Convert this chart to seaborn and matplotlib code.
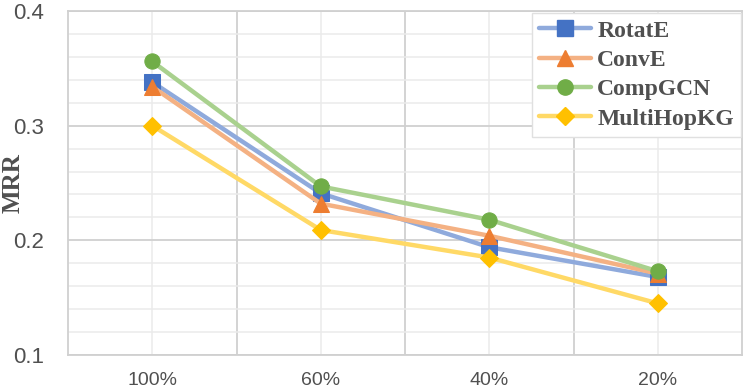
import numpy as np
import pandas as pd
import seaborn as sns
import matplotlib.pyplot as plt
from matplotlib.lines import Line2D
from matplotlib.ticker import MultipleLocator, FixedLocator

# data
ratios = ["100%", "60%", "40%", "20%"]
rotate = [0.338, 0.241, 0.194, 0.168]
conve = [0.334, 0.232, 0.204, 0.171]
compgcn = [0.356, 0.247, 0.218, 0.173]
multihop = [0.300, 0.209, 0.185, 0.145]
yticks = [0.1, 0.2, 0.3, 0.4]

models = ["RotatE", "ConvE", "CompGCN", "MultiHopKG"]
line_colors = ["#8FAADC", "#F4B183", "#A9D18E", "#FFD966"]
marker_colors = ["#4472C4", "#ED7D31", "#70AD47", "#FFC000"]
markers = ["s", "^", "o", "D"]
msizes = [11, 11, 11, 9]

rows = []
for name, vals in zip(models, [rotate, conve, compgcn, multihop]):
    for i, (r, v) in enumerate(zip(ratios, vals)):
        rows.append({"pos": i, "ratio": r, "MRR": v, "model": name})
df = pd.DataFrame(rows)

sns.set_style("white")
plt.rcParams["font.family"] = ["Liberation Sans", "DejaVu Sans"]

fig, ax = plt.subplots(figsize=(7.47, 3.91), dpi=100)
fig.subplots_adjust(left=68/747, right=742/747, top=1-11/391, bottom=1-355/391)

sns.lineplot(data=df, x="pos", y="MRR", hue="model", style="model",
             hue_order=models, style_order=models,
             palette=line_colors, markers=markers, dashes=False,
             linewidth=3.2, markersize=10, legend=False, ax=ax, zorder=3)

handles = []
for ln, mc, ms, lc, mk in zip(ax.lines, marker_colors, msizes, line_colors, markers):
    ln.set_markerfacecolor(mc)
    ln.set_markeredgecolor(mc)
    ln.set_markersize(ms)
    ln.set_solid_capstyle("round")
    handles.append(Line2D([0], [0], color=lc, lw=3.2, marker=mk,
                          markersize=ms, markerfacecolor=mc, markeredgecolor=mc,
                          solid_capstyle="round"))

ax.set_xlim(-0.5, 3.5)
ax.set_ylim(0.1, 0.4)
ax.xaxis.set_major_locator(FixedLocator([0, 1, 2, 3]))
ax.set_xticklabels(ratios)
ax.xaxis.set_minor_locator(FixedLocator([0.5, 1.5, 2.5]))
ax.yaxis.set_major_locator(FixedLocator(yticks))
ax.yaxis.set_minor_locator(MultipleLocator(0.02))
ax.set_yticklabels([f"{v:.1f}" for v in yticks])

ax.grid(which="major", axis="y", color="#D0D0D0", lw=1.3)
ax.grid(which="minor", axis="y", color="#EBEBEB", lw=1.1)
ax.grid(which="major", axis="x", color="#EBEBEB", lw=1.1)
ax.grid(which="minor", axis="x", color="#D0D0D0", lw=1.3)
ax.set_axisbelow(True)
for s in ax.spines.values():
    s.set_color("#D0D0D0")
    s.set_linewidth(1.3)

ax.tick_params(which="both", length=0)
ax.tick_params(axis="y", labelsize=16, labelcolor="#505050", pad=17)
ax.tick_params(axis="x", labelsize=14, labelcolor="#505050", pad=12)

ax.set_xlabel("")
ax.set_ylabel("MRR", fontsize=18, fontweight="bold", color="#505050",
              family=["Liberation Serif"])
ax.yaxis.set_label_coords(-43/674, 0.5)

leg = ax.legend(handles, models, loc="upper right",
                bbox_to_anchor=(1 - 1/674, 1 - 2/344), borderaxespad=0,
                prop={"family": "Liberation Serif", "weight": "bold", "size": 17},
                handlelength=2.2, handletextpad=0.25, labelspacing=0.33,
                borderpad=0.3, frameon=True, fancybox=False, framealpha=1)
leg.get_frame().set_edgecolor("#E0E0E0")
leg.get_frame().set_linewidth(1.0)
for t in leg.get_texts():
    t.set_color("#505050")

fig.savefig("out.png", dpi=100)
